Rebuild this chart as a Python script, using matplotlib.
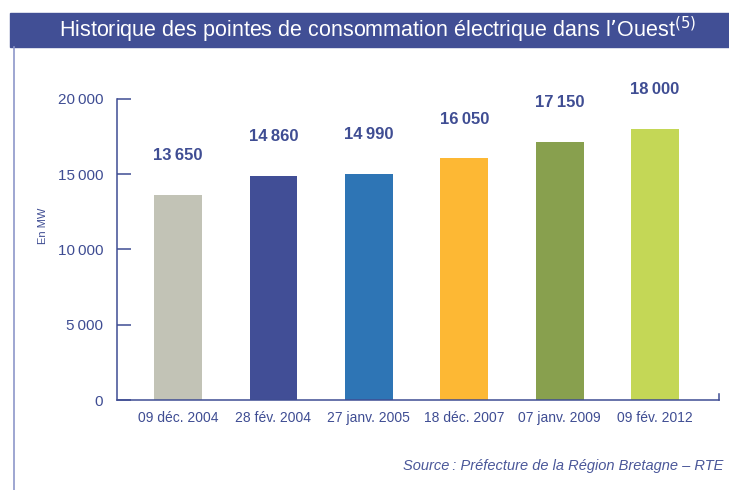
import matplotlib
matplotlib.use("Agg")
import matplotlib.pyplot as plt
from matplotlib.patches import Rectangle
from matplotlib.lines import Line2D

# data
dates = ["09 déc. 2004", "28 fév. 2004", "27 janv. 2005", "18 déc. 2007", "07 janv. 2009", "09 fév. 2012"]
peaks_mw = [13650, 14860, 14990, 16050, 17150, 18000]
bar_colors = ["#C2C3B6", "#414E96", "#2E75B5", "#FDB834", "#88A04E", "#C4D756"]
yticks = [0, 5000, 10000, 15000, 20000]

navy = "#3F4D93"
fonts = ["Liberation Sans Narrow", "Liberation Sans", "DejaVu Sans"]
plt.rcParams["font.family"] = fonts


def fmt(v):
    s = f"{v:,}".replace(",", "\u2009")
    return s


fig = plt.figure(figsize=(7.29, 4.90), dpi=100)

# title banner
fig.patches.append(Rectangle((10 / 729, 1 - 47 / 490), 1, 34 / 490, transform=fig.transFigure,
                             color="#414F95", zorder=0))
fig.text(378 / 729, 1 - 30 / 490, "Historique des pointes de consommation électrique dans l\u2019Ouest$^{(5)}$",
         color="white", fontsize=15.5, ha="center", va="center")
# left frame line
fig.lines.append(Line2D([14 / 729, 14 / 729], [0, 1 - 47 / 490], transform=fig.transFigure,
                        color="#8E97C9", lw=1.2))

ax = fig.add_axes([117 / 729, 90 / 490, 602 / 729, 301 / 490])
x = range(len(dates))
ax.bar(x, peaks_mw, width=0.5, color=bar_colors)
for xi, v in zip(x, peaks_mw):
    ax.annotate(fmt(v), (xi, v), xytext=(0, 23), textcoords="offset points",
                ha="center", va="bottom", fontsize=12, fontweight="bold", color=navy,
                annotation_clip=False)

ax.set_xlim(-0.64, 5.67)
ax.set_ylim(0, 20000)
ax.set_yticks(yticks)
ax.set_yticklabels([fmt(t) for t in yticks], fontsize=11, color=navy)
ax.tick_params(axis="y", direction="in", length=10, width=1.1, color=navy, pad=10)
ax.set_xticks(list(x))
ax.set_xticklabels(dates, fontsize=10, color=navy)
ax.tick_params(axis="x", length=0, pad=8)
for s in ["top", "right"]:
    ax.spines[s].set_visible(False)
for s in ["left", "bottom"]:
    ax.spines[s].set_color(navy)
    ax.spines[s].set_linewidth(1.1)
# small end tick at right of x axis
ax.plot([1, 1], [0, 0.02], transform=ax.transAxes, color=navy, lw=1.1, clip_on=False)

ax.set_ylabel("En MW", fontsize=8, color=navy)
ax.yaxis.set_label_coords(-0.115, 0.58)

fig.text(723 / 729, 1 - 466 / 490, "Source\u2009: Préfecture de la Région Bretagne \u2013 RTE",
         fontsize=10.5, style="italic", color="#4A5799", ha="right", va="center")

fig.savefig("out.png", dpi=100)
